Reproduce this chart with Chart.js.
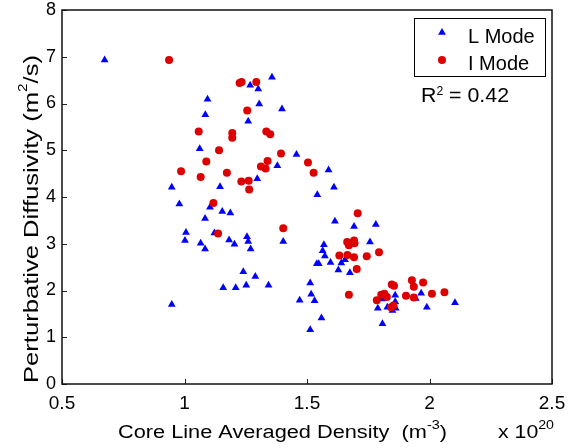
<!DOCTYPE html>
<html>
<head>
<meta charset="utf-8">
<script src="https://cdn.jsdelivr.net/npm/chart.js@4/dist/chart.umd.min.js"></script>
<style>
  html, body { margin: 0; padding: 0; background: #fff; }
  #wrap { width: 568px; height: 448px; }
</style>
</head>
<body>
<div id="wrap"><canvas id="plot" width="568" height="448"></canvas></div>
<script>
// L Mode (blue triangles)
const lModeX = [0.674, 1.268, 1.301, 1.357, 1.094, 1.305, 1.398, 1.085, 1.260, 1.062,
    1.457, 1.379, 1.297, 0.948, 1.145, 1.588, 1.610, 1.542, 0.979, 1.104,
    1.154, 1.187, 1.084, 1.006, 1.122, 1.002, 1.066, 1.084, 1.182, 1.204,
    1.255, 1.260, 1.270, 1.403, 1.240, 1.289, 1.158, 1.209, 1.252, 1.343,
    0.948, 1.470, 1.614, 1.692, 1.781, 1.757, 1.569, 1.564, 1.573, 1.540,
    1.548, 1.596, 1.640, 1.655, 1.628, 1.675, 1.513, 1.517, 1.531, 1.559,
    1.513, 1.860, 1.966, 1.944, 1.807, 1.860, 1.789, 1.828, 1.862, 1.849,
    1.989, 2.104, 1.808];
const lModeY = [6.93, 6.39, 6.31, 6.56, 6.09, 5.99, 5.88, 5.76, 5.62, 5.03,
    4.91, 4.67, 4.39, 4.21, 4.22, 4.58, 4.21, 4.05, 3.85, 3.78,
    3.69, 3.66, 3.54, 3.24, 3.23, 3.07, 3.01, 2.89, 3.08, 2.99,
    3.15, 3.05, 2.89, 3.05, 2.40, 2.30, 2.06, 2.06, 2.11, 2.11,
    1.70, 1.79, 3.48, 3.37, 3.41, 3.04, 2.98, 2.85, 2.74, 2.57,
    2.57, 2.60, 2.59, 2.66, 2.44, 2.38, 2.16, 1.92, 1.78, 1.41,
    1.16, 1.90, 1.94, 1.83, 1.82, 1.76, 1.62, 1.64, 1.62, 1.57,
    1.64, 1.74, 1.29];

// I Mode (red circles)
const iModeX = [0.937, 1.225, 1.233, 1.293, 1.256, 1.058, 1.195, 1.195, 1.334, 1.350,
    1.141, 1.394, 1.504, 1.527, 1.089, 0.986, 1.339, 1.312, 1.331, 1.173,
    1.066, 1.232, 1.262, 1.264, 1.118, 1.137, 1.403, 1.707, 1.664, 1.671,
    1.692, 1.694, 1.632, 1.665, 1.692, 1.744, 1.794, 1.703, 1.671, 1.846,
    1.855, 1.928, 1.974, 1.936, 1.904, 1.936, 2.010, 2.061, 1.785, 1.803,
    1.816, 1.826, 1.843, 1.853];
const iModeY = [6.93, 6.44, 6.46, 6.46, 5.85, 5.40, 5.37, 5.27, 5.40, 5.34,
    5.00, 4.93, 4.74, 4.52, 4.76, 4.55, 4.77, 4.65, 4.61, 4.52,
    4.43, 4.33, 4.35, 4.16, 3.87, 3.22, 3.33, 3.65, 3.04, 2.97,
    3.07, 3.01, 2.75, 2.76, 2.71, 2.73, 2.82, 2.46, 1.91, 2.13,
    2.10, 2.22, 2.17, 2.08, 1.89, 1.85, 1.93, 1.96, 1.79, 1.91,
    1.93, 1.86, 1.64, 1.68];

const xTicks = [0.5, 1, 1.5, 2, 2.5];
const yTicks = [0, 1, 2, 3, 4, 5, 6, 7, 8];
const seriesNames = ['L Mode', 'I Mode'];
const rSquared = '0.42';

const FONT = '"Liberation Sans", Arial, Helvetica, sans-serif';

const pts = (xs, ys) => xs.map((x, i) => ({ x, y: ys[i] }));

// text with superscripts; parts = [[text, isSup], ...], optionally stretched to width fitW
function richText(ctx, parts, x, y, size, supSize, rise, fitW, center) {
    ctx.save();
    let w = 0;
    const widths = parts.map(([t, sup]) => {
        ctx.font = (sup ? supSize : size) + 'px ' + FONT;
        const m = ctx.measureText(t).width;
        w += m;
        return m;
    });
    ctx.translate(x, y);
    ctx.scale(fitW ? fitW / w : 1, 1);
    let cx = center ? -w / 2 : 0;
    ctx.textAlign = 'left';
    ctx.textBaseline = 'alphabetic';
    ctx.fillStyle = '#000';
    parts.forEach(([t, sup], i) => {
        ctx.font = (sup ? supSize : size) + 'px ' + FONT;
        ctx.fillText(t, cx, sup ? -rise : 0);
        cx += widths[i];
    });
    ctx.restore();
}

const decor = {
    id: 'decor',
    afterDraw(chart) {
        const { ctx, chartArea: a, scales: { x, y } } = chart;
        ctx.save();

        // inward tick marks
        ctx.strokeStyle = '#222';
        ctx.lineWidth = 1;
        ctx.beginPath();
        xTicks.forEach(v => {
            const px = Math.round(x.getPixelForValue(v)) + 0.5;
            ctx.moveTo(px, a.bottom);
            ctx.lineTo(px, a.bottom - 5);
        });
        yTicks.forEach(v => {
            const py = Math.round(y.getPixelForValue(v)) + 0.5;
            ctx.moveTo(a.left, py);
            ctx.lineTo(a.left + 5, py);
        });
        ctx.stroke();

        // box
        ctx.lineWidth = 1.5;
        ctx.strokeStyle = '#111';
        ctx.strokeRect(a.left, a.top, a.right - a.left, a.bottom - a.top);

        // legend
        ctx.lineWidth = 1;
        ctx.strokeStyle = '#000';
        ctx.strokeRect(414.5, 18.5, 131, 58);
        chart.data.datasets.forEach((ds, i) => {
            const cy = 32.5 + i * 27.5;
            ctx.fillStyle = ds.backgroundColor;
            Chart.helpers.drawPoint(ctx, { pointStyle: ds.pointStyle, radius: ds.pointRadius, rotation: 0, borderWidth: 0 }, 442, cy);
            ctx.fillStyle = '#000';
            ctx.font = '20px ' + FONT;
            ctx.textAlign = 'left';
            ctx.textBaseline = 'alphabetic';
            ctx.fillText(ds.label, 468, 42.5 + i * 27.5);
        });

        // R^2 note
        richText(ctx, [['R', 0], ['2', 1], [' = ' + rSquared, 0]], 421, 101.5, 21, 12, 7, 88, false);

        // axis titles
        richText(ctx, [['Core Line Averaged Density  (m', 0], ['-3', 1], [')', 0]], 118, 438, 18, 12, 9.5, 329, false);
        richText(ctx, [['x 10', 0], ['20', 1]], 498, 438, 18, 12, 9.5, 56, false);

        ctx.save();
        ctx.translate(37.5, 219);
        ctx.rotate(-Math.PI / 2);
        richText(ctx, [['Perturbative Diffusivity (m', 0], ['2', 1], ['/s)', 0]], 0, 0, 20, 12, 11, 328, true);
        ctx.restore();

        ctx.restore();
    }
};

new Chart(document.getElementById('plot'), {
    type: 'scatter',
    data: {
        datasets: [
            { label: seriesNames[0], data: pts(lModeX, lModeY), pointStyle: 'triangle', pointRadius: 4.5, pointHoverRadius: 4.5, backgroundColor: '#0000ff', borderColor: '#0000ff', borderWidth: 0, order: 1 },
            { label: seriesNames[1], data: pts(iModeX, iModeY), pointStyle: 'circle', pointRadius: 4, pointHoverRadius: 4, backgroundColor: '#dd0000', borderColor: '#dd0000', borderWidth: 0, order: 0 }
        ]
    },
    options: {
        responsive: false, animation: false, events: [],
        layout: { padding: { left: 0, top: 10, right: 16, bottom: 0 }, autoPadding: false },
        plugins: { legend: { display: false }, tooltip: { enabled: false } },
        scales: {
            x: {
                type: 'linear', min: 0.5, max: 2.5,
                afterBuildTicks: s => { s.ticks = xTicks.map(v => ({ value: v })); },
                afterFit: s => { s.height = 64; s.paddingLeft = 0; s.paddingRight = 0; },
                grid: { display: false, drawTicks: false },
                border: { display: false },
                ticks: { color: '#000', font: { family: FONT, size: 19 }, padding: 8, maxRotation: 0, autoSkip: false, callback: v => String(v) }
            },
            y: {
                type: 'linear', min: 0, max: 8,
                afterBuildTicks: s => { s.ticks = yTicks.map(v => ({ value: v })); },
                afterFit: s => { s.width = 62; s.paddingTop = 0; s.paddingBottom = 0; },
                grid: { display: false, drawTicks: false },
                border: { display: false },
                ticks: { color: '#000', font: { family: FONT, size: 18 }, padding: 6, autoSkip: false, callback: v => String(v) }
            }
        }
    },
    plugins: [decor]
});
</script>
</body>
</html>
